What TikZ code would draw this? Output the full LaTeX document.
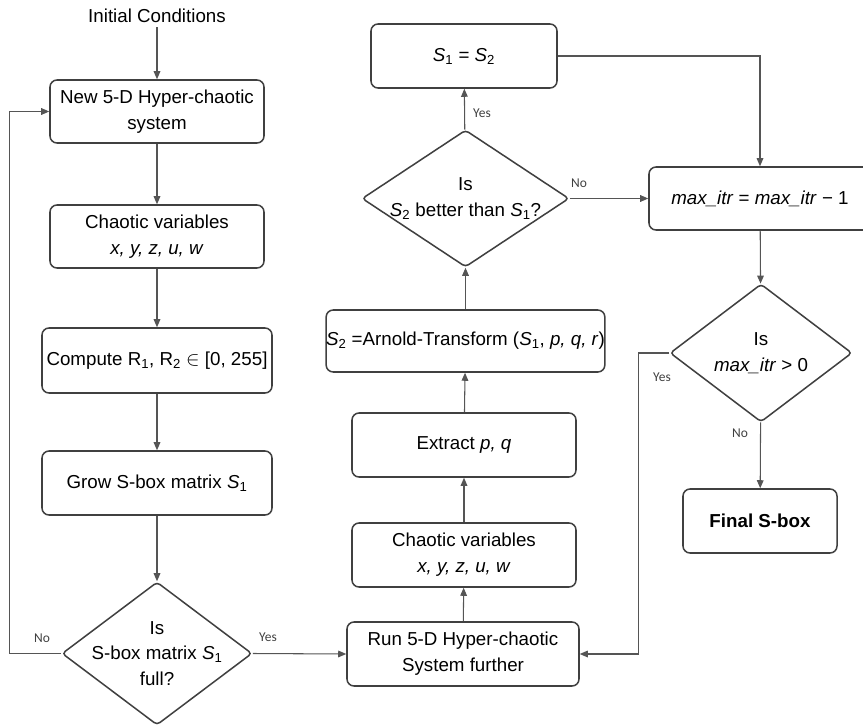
\documentclass[tikz,border=0pt]{standalone}
\usepackage{fontspec}
\setmainfont{Liberation Sans}
\newfontfamily\lblfont{Carlito}
\usepackage{tikz}
\usetikzlibrary{arrows.meta,shapes.geometric,positioning}
\usepackage{xcolor}
\definecolor{fcline}{RGB}{64,64,64}
\definecolor{fcarrow}{RGB}{85,85,85}
\tikzstyle{proc} = [draw=fcline, line width=1.3pt, rounded corners=6pt, fill=white, align=center, font=\fontsize{16}{22}\selectfont, inner sep=0pt]
\tikzstyle{decision} = [draw=fcline, line width=1.3pt, diamond, rounded corners=3pt, inner sep=0pt]
\tikzstyle{dtext} = [align=center, font=\fontsize{16}{22}\selectfont]
\tikzstyle{arrow} = [line width=0.9pt, draw=fcarrow, -{Triangle[length=2.4mm,width=2mm]}]
\tikzstyle{lbl} = [font=\lblfont\fontsize{11.5}{13}\selectfont, text=fcline, inner sep=0pt]
\newcommand{\Sv}[1]{\textit{S}\textsubscript{#1}}

\begin{document}
\begin{tikzpicture}[x=0.03cm, y=-0.03cm]
\useasboundingbox (0,0) rectangle (863,727);

% Left column
\node[dtext] (init) at (157,16) {Initial Conditions};
\node[proc, minimum width=6.42cm, minimum height=1.89cm] (newsys) at (157,111.5) {New 5-D Hyper-chaotic\\system};
\node[proc, minimum width=6.42cm, minimum height=1.89cm] (vars) at (157,236.5) {Chaotic variables\\\textit{x, y, z, u, w}};
\node[proc, minimum width=6.9cm, minimum height=1.95cm] (rnd) at (157,360.5) {Compute R\textsubscript{1}, R\textsubscript{2} $\in$ [0, 255]};
\node[proc, minimum width=6.9cm, minimum height=1.92cm] (grow) at (157,483) {Grow S-box matrix \Sv{1}};
\node[decision, minimum width=5.7cm, minimum height=4.29cm] (full) at (157,653.5) {};
\node[dtext] (fulltxt) at (full) {Is\\S-box matrix \Sv{1}\\full?};

% Middle column
\node[proc, minimum width=6.96cm, minimum height=1.92cm] (run) at (463,654) {Run 5-D Hyper-chaotic\\System further};
\node[proc, minimum width=6.72cm, minimum height=1.92cm] (vars2) at (464,555) {Chaotic variables\\\textit{x, y, z, u, w}};
\node[proc, minimum width=6.72cm, minimum height=1.92cm] (extract) at (464,445) {Extract \textit{p, q}};
\node[proc, minimum width=8.25cm, minimum height=1.86cm] (arnold) at (465.5,341) {\Sv{2} =Arnold-Transform (\Sv{1}, \textit{p, q, r})};
\node[decision, minimum width=6.21cm, minimum height=4.11cm] (better) at (465.5,198.5) {};
\node[dtext] (bettertxt) at (better) {Is\\\Sv{2} better than \Sv{1}?};
\node[proc, minimum width=5.58cm, minimum height=1.92cm] (swap) at (464,56) {\Sv{1} = \Sv{2}};

% Right column
\node[proc, minimum width=6.66cm, minimum height=1.89cm] (itr) at (760,198.5) {\textit{max\_itr} = \textit{max\_itr} − 1};
\node[decision, minimum width=5.46cm, minimum height=4.14cm] (left) at (761,353) {};
\node[dtext] (lefttxt) at (left) {Is\\\textit{max\_itr} > 0};
\node[proc, minimum width=4.62cm, minimum height=1.92cm, font=\fontsize{16}{22}\selectfont\bfseries] (final) at (760,521) {Final S-box};

% Arrows
\draw[arrow] (init) -- (newsys);
\draw[arrow] (newsys) -- (vars);
\draw[arrow] (vars) -- (rnd);
\draw[arrow] (rnd) -- (grow);
\draw[arrow] (grow) -- (full);
\draw[arrow] (full.west) -- ++(-52,0) |- (newsys.west);
\draw[arrow] (full.east) -- (run.west);
\draw[arrow] (run) -- (vars2);
\draw[arrow] (vars2) -- (extract);
\draw[arrow] (extract) -- (arnold);
\draw[arrow] (arnold) -- (better);
\draw[arrow] (better) -- (swap);
\draw[arrow] (better.east) -- (itr.west);
\draw[arrow] (swap.east) -| (itr.north);
\draw[arrow] (itr) -- (left);
\draw[arrow] (left) -- (final);
\draw[arrow] (left.west) -- ++(-31,0) |- (run.east);

% Labels
\node[lbl] (no1) at (42,638) {No};
\node[lbl] (yes1) at (268,637) {Yes};
\node[lbl] (yes2) at (482,113) {Yes};
\node[lbl] (no2) at (579,183) {No};
\node[lbl] (yes3) at (662,377) {Yes};
\node[lbl] (no3) at (740,433) {No};
\end{tikzpicture}
\end{document}
